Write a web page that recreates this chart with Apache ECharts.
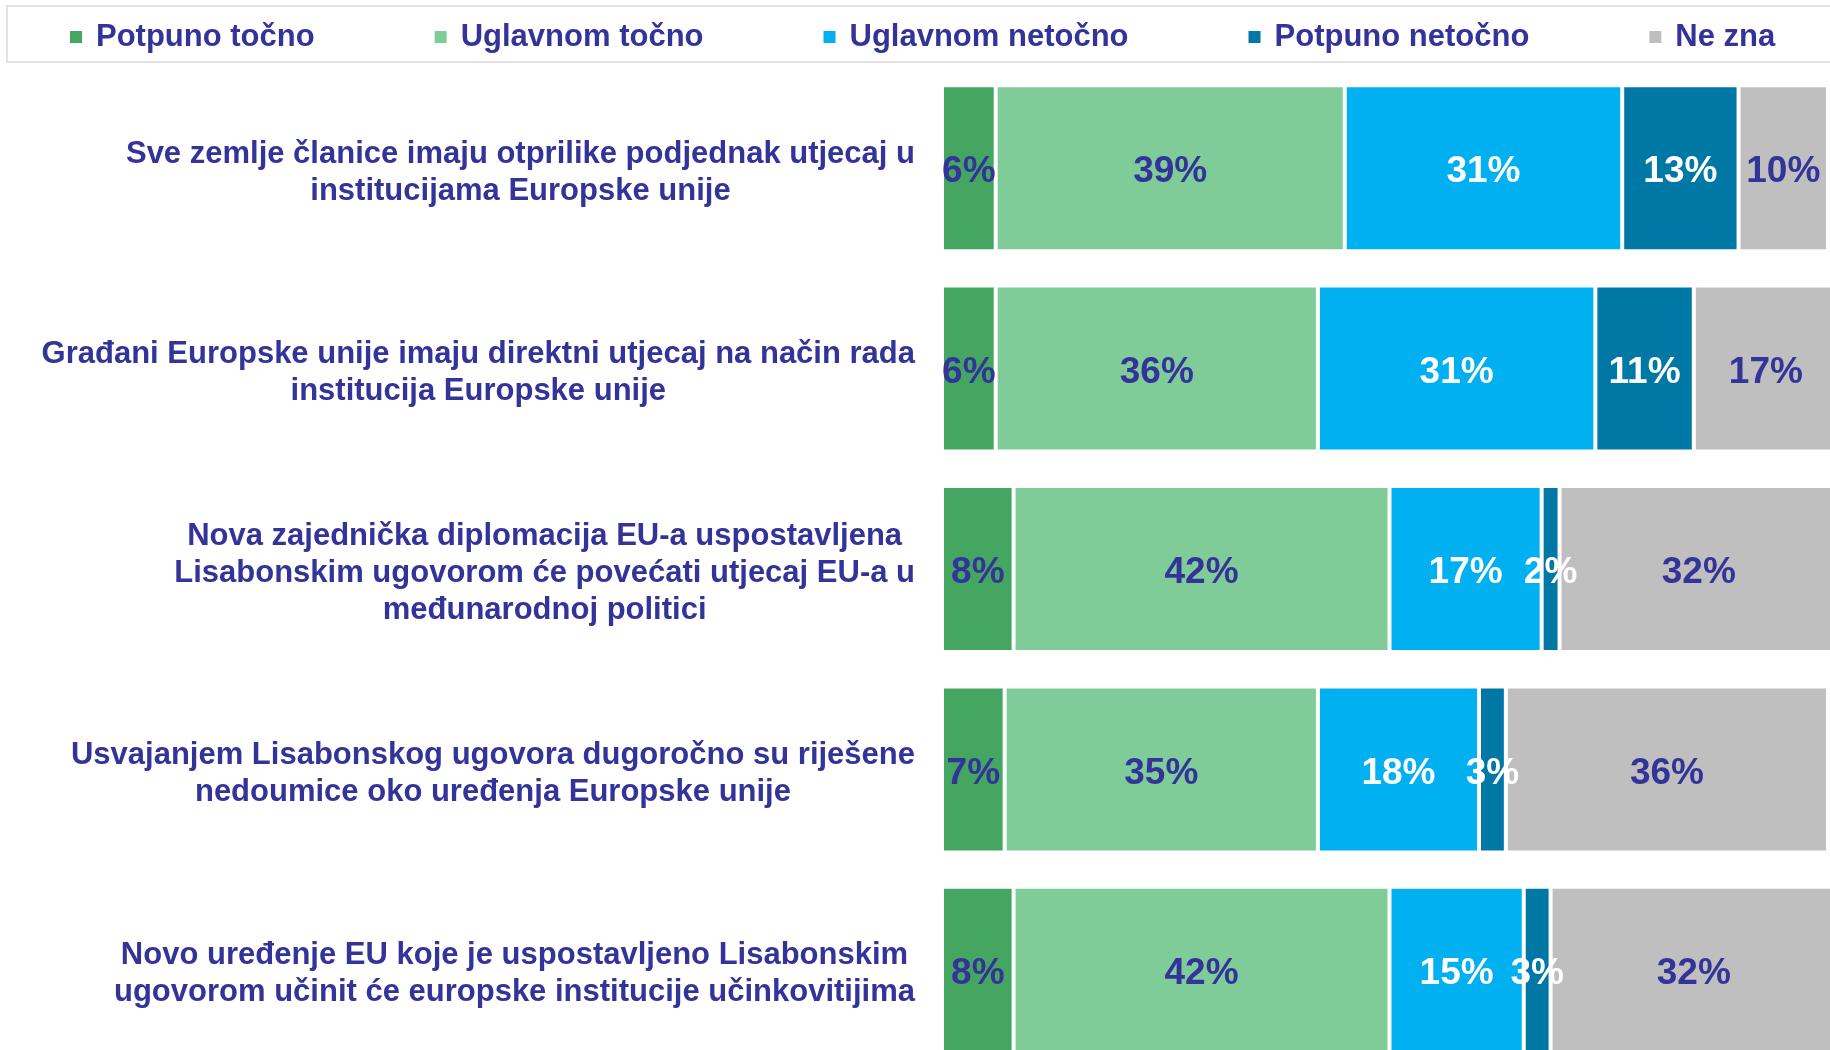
<!DOCTYPE html>
<html>
<head>
<meta charset="utf-8">
<title>Lisabonski ugovor</title>
<script src="https://cdn.jsdelivr.net/npm/echarts@6/dist/echarts.min.js"></script>
<style>
  html, body { margin: 0; padding: 0; background: #fff; }
  #main { width: 1830px; height: 1050px; }
</style>
</head>
<body>
<div id="main"></div>
<script>
// kategorije (tvrdnje), redom odozgo prema dolje
var categories = [
  'Sve zemlje članice imaju otprilike podjednak utjecaj u\ninstitucijama Europske unije',
  'Građani Europske unije imaju direktni utjecaj na način rada\ninstitucija Europske unije',
  'Nova zajednička diplomacija EU-a uspostavljena\nLisabonskim ugovorom će povećati utjecaj EU-a u\nmeđunarodnoj politici',
  'Usvajanjem Lisabonskog ugovora dugoročno su riješene\nnedoumice oko uređenja Europske unije',
  'Novo uređenje EU koje je uspostavljeno Lisabonskim\nugovorom učinit će europske institucije učinkovitijima'
];

var seriesNames = ['Potpuno točno', 'Uglavnom točno', 'Uglavnom netočno', 'Potpuno netočno', 'Ne zna'];

// postoci po odgovoru
var potpunoTocno    = [6, 6, 8, 7, 8];
var uglavnomTocno   = [39, 36, 42, 35, 42];
var uglavnomNetocno = [31, 31, 17, 18, 15];
var potpunoNetocno  = [13, 11, 2, 3, 3];
var neZna           = [10, 17, 32, 36, 32];

var colors = ['#44a660', '#80cc98', '#00b0f0', '#0078a6', '#bfbfbf'];
var labelColors = ['#333399', '#333399', '#ffffff', '#ffffff', '#333399'];
var textColor = '#333399';
var font = '"Liberation Sans", Arial, sans-serif';

var values = [potpunoTocno, uglavnomTocno, uglavnomNetocno, potpunoNetocno, neZna];

var myChart = echarts.init(document.getElementById('main'));

var series = seriesNames.map(function (name, i) {
  return {
    name: name,
    type: 'bar',
    stack: 'total',
    barWidth: 166,
    itemStyle: { color: colors[i], borderColor: '#ffffff', borderWidth: 2 },
    label: {
      show: true,
      position: 'inside',
      offset: [0, 4],
      formatter: '{c}%',
      color: labelColors[i],
      fontSize: 37,
      fontWeight: 'bold',
      fontFamily: font
    },
    emphasis: { disabled: true },
    data: values[i]
  };
});

myChart.setOption({
  animation: false,
  color: colors,
  legend: {
    data: seriesNames,
    left: 68,
    top: 19,
    padding: 0,
    itemGap: 118,
    itemWidth: 14,
    itemHeight: 14,
    icon: 'rect',
    selectedMode: false,
    textStyle: {
      color: textColor,
      fontSize: 31,
      fontWeight: 'bold',
      fontFamily: font,
      lineHeight: 36,
      padding: [0, 0, 0, 8]
    }
  },
  // okvir oko legende
  graphic: [{
    type: 'rect',
    shape: { x: 7, y: 6, width: 1850, height: 56 },
    style: { fill: 'none', stroke: '#e2e2e2', lineWidth: 2 },
    silent: true
  }],
  grid: { left: 942, width: 895, top: 68, height: 1002, outerBoundsMode: 'none', containLabel: false },
  xAxis: {
    type: 'value',
    min: 0,
    max: 100,
    show: false
  },
  yAxis: {
    type: 'category',
    inverse: true,
    data: categories,
    axisLine: { show: false },
    axisTick: { show: false },
    splitLine: { show: false },
    axisLabel: {
      margin: 27,
      padding: [9, 0, 0, 0],
      formatter: function (value) {
        return value.split('\n').map(function (line) {
          return '{c|' + line + '}';
        }).join('\n');
      },
      rich: {
        c: {
          align: 'center',
          color: textColor,
          fontSize: 31,
          fontWeight: 'bold',
          fontFamily: font,
          lineHeight: 37
        }
      }
    }
  },
  series: series
});
</script>
</body>
</html>
